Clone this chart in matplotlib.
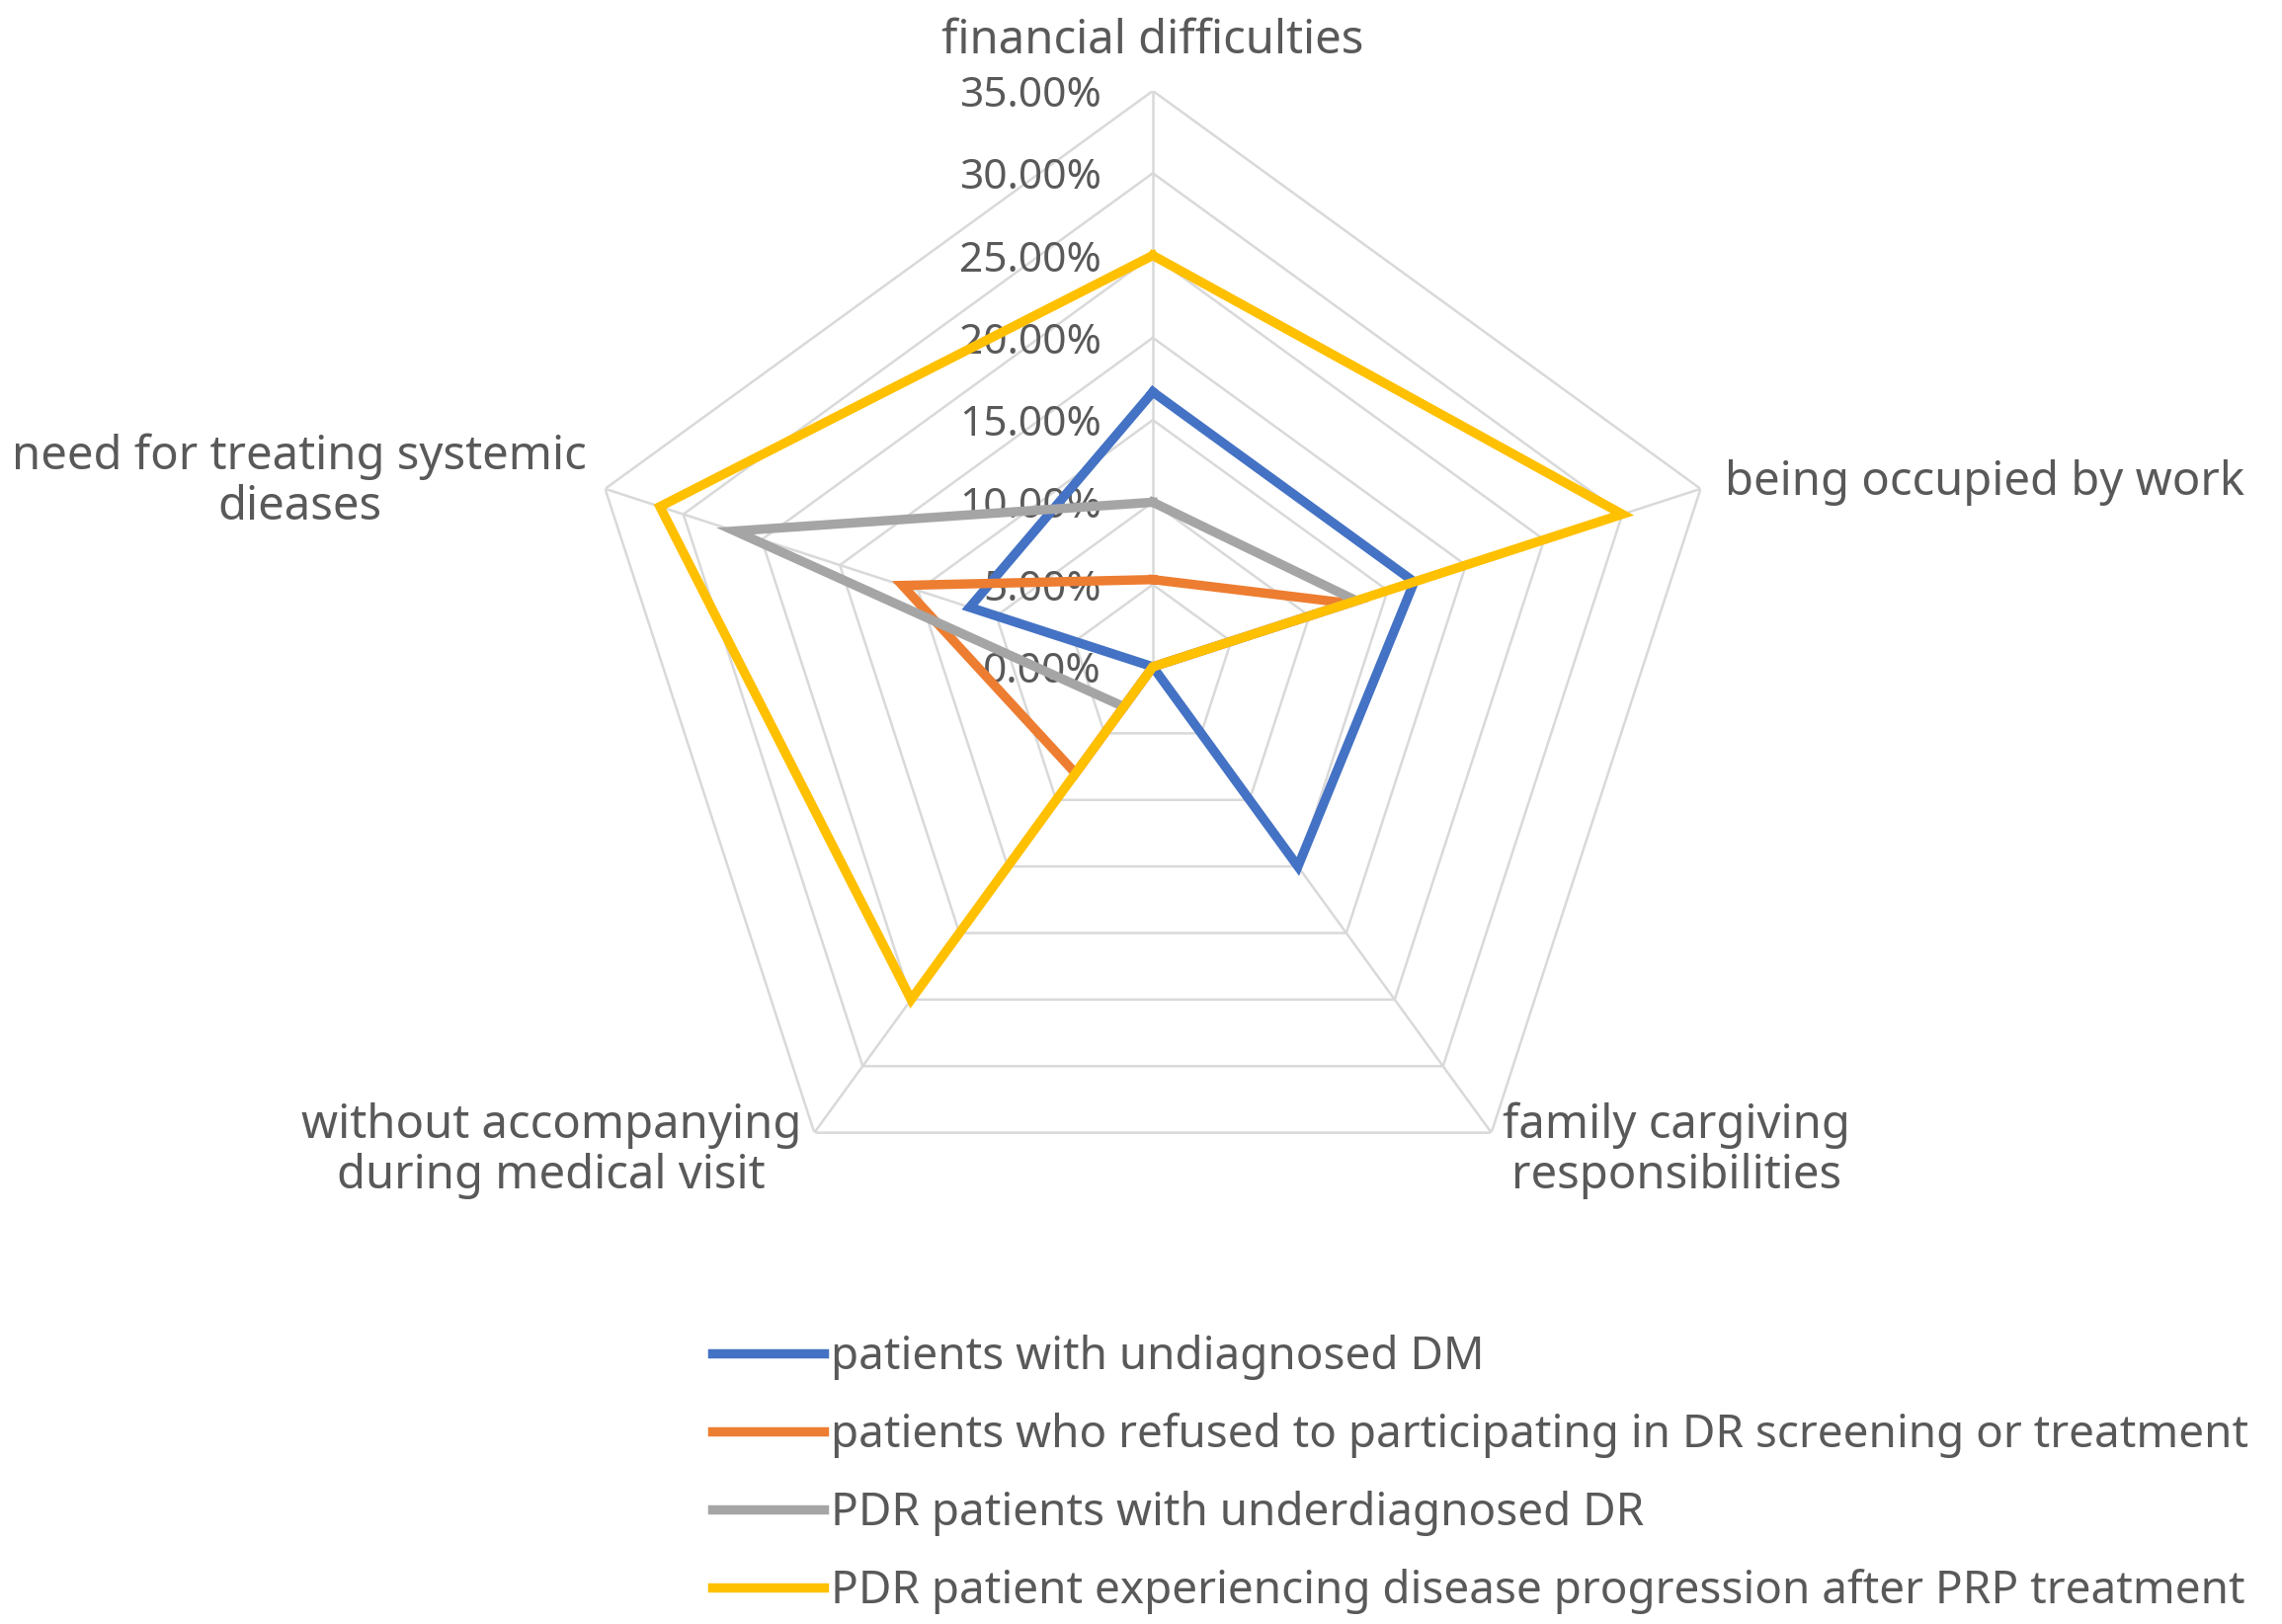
import numpy as np
import matplotlib
matplotlib.use("Agg")
import matplotlib.pyplot as plt
from matplotlib.transforms import offset_copy

categories = ["financial difficulties", "being occupied by work",
              "family cargiving\nresponsibilities",
              "without accompanying\nduring medical visit",
              "need for treating systemic\ndieases"]
series_names = ["patients with undiagnosed DM",
                "patients who refused to participating in DR screening or treatment",
                "PDR patients with underdiagnosed DR",
                "PDR patient experiencing disease progression after PRP treatment"]
undiagnosed_dm = [16.7, 16.7, 15.0, 0.0, 11.7]
refused = [5.3, 12.5, 0.0, 8.0, 16.0]
underdiagnosed_dr = [10.0, 13.0, 0.0, 3.0, 26.7]
progression_prp = [25.0, 30.0, 0.0, 25.0, 31.5]
tick_values = [0, 5, 10, 15, 20, 25, 30, 35]
tick_labels = ["0.00%", "5.00%", "10.00%", "15.00%", "20.00%", "25.00%", "30.00%", "35.00%"]

colors = ["#4472C4", "#ED7D31", "#A5A5A5", "#FFC000"]
text_color = "#595959"
grid_color = "#D9D9D9"
plt.rcParams['font.family'] = ['Noto Sans', 'DejaVu Sans']

W, H = 2310, 1644
fig = plt.figure(figsize=(W / 100, H / 100), dpi=100)
cx, cy, R = 1167, 675, 583
ax = fig.add_axes([(cx - R) / W, 1 - (cy + R) / H, 2 * R / W, 2 * R / H], projection='polar')
ax.set_theta_zero_location('N')
ax.set_theta_direction(-1)
ax.set_ylim(0, 35)
ax.grid(False)
ax.spines['polar'].set_visible(False)
ax.set_xticks([])
ax.set_yticks([])
ax.patch.set_alpha(0)

n = len(categories)
angles = np.linspace(0, 2 * np.pi, n, endpoint=False)
ang_closed = np.concatenate([angles, angles[:1]])

# polygon gridlines
for t in tick_values[1:]:
    ax.plot(ang_closed, [t] * (n + 1), color=grid_color, lw=1.8, zorder=1)
for a in angles:
    ax.plot([a, a], [0, tick_values[-1]], color=grid_color, lw=1.8, zorder=1)

# radial tick labels
tr = offset_copy(ax.transData, fig=fig, x=-52, y=0, units='dots')
for t, lab in zip(tick_values, tick_labels):
    ax.text(0, t, lab, transform=tr, ha='right', va='center_baseline', fontsize=30.5,
            color=text_color, zorder=2)

all_series = [undiagnosed_dm, refused, underdiagnosed_dr, progression_prp]
for vals, c, name in zip(all_series, colors, series_names):
    v = np.concatenate([vals, vals[:1]])
    ax.plot(ang_closed, v, color=c, lw=6.8, label=name, zorder=3,
            solid_joinstyle='miter')

# category labels
label_pos = [(1167, 41, 'center'), (1746, 488, 'left'), (1697, 1165, 'center'),
             (558, 1165, 'center'), (303, 488, 'center')]
for cat, (x, y, ha) in zip(categories, label_pos):
    fig.text(x / W, 1 - y / H, cat, ha=ha, va='center', fontsize=34,
             color=text_color, linespacing=1.1,
             multialignment='center')

handles, labels = ax.get_legend_handles_labels()
leg = fig.legend(handles, labels, loc='upper left',
                 bbox_to_anchor=(703 / W, 1 - 1333 / H),
                 frameon=False, fontsize=33, handlelength=2.45,
                 handletextpad=0.16, labelspacing=0.72, borderaxespad=0)
for t in leg.get_texts():
    t.set_color(text_color)

fig.savefig("out.png", dpi=100, facecolor='white')
